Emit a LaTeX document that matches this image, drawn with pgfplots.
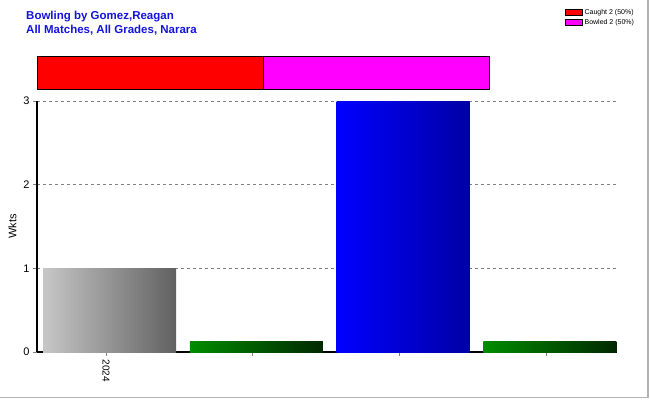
\documentclass[border=0pt]{standalone}
\usepackage{pgfplots}
\pgfplotsset{compat=1.18}
\usepackage{fontspec}
\setmainfont{Liberation Sans}
\definecolor{titleblue}{RGB}{20,20,220}
\definecolor{mag}{RGB}{255,0,255}
\begin{document}
\begin{tikzpicture}[x=1pt,y=1pt]
\path[use as bounding box] (0,0) rectangle (650,400);
\draw[gray!60,line width=1.2pt] (0,2.5) -- (648,2.5) -- (648,400);

% titles
\node[anchor=north west,align=left,text=titleblue,font=\fontsize{11.5}{13.5}\selectfont\bfseries,inner sep=0pt]
  at (26,389) {Bowling by Gomez,Reagan\\All Matches, All Grades, Narara};

% main chart
\begin{axis}[
  at={(37pt,48pt)}, anchor=south west,
  scale only axis, width=580pt, height=251pt,
  xmin=-0.494, xmax=3.457, ymin=0, ymax=3,
  axis lines*=left,
  axis line style={line width=1.6pt},
  ybar, bar width=133pt, bar shift=0pt,
  xtick={-0.024,0.976,1.976,2.976},
  xticklabels={2024,,,},
  xticklabel style={rotate=-90,anchor=west,font=\fontsize{10}{12}\selectfont},
  ytick={0,1,2,3},
  yticklabel style={font=\fontsize{11}{13}\selectfont},
  /pgf/number format/assume math mode=true,
  tick align=outside, major tick length=4pt,
  tick style={gray,line width=0.8pt},
  ymajorgrids, grid style={dashed,gray,line width=0.6pt},
  ylabel={Wkts}, ylabel style={font=\fontsize{11}{13}\selectfont},
  clip=false,
]
\addplot[draw=none,left color=black!22,right color=black!62] coordinates {(0,1)};
\addplot[draw=none,left color={rgb,255:red,0;green,140;blue,0},right color={rgb,255:red,0;green,40;blue,0}] coordinates {(1,0.12)};
\addplot[draw=none,left color={rgb,255:red,0;green,0;blue,255},right color={rgb,255:red,0;green,0;blue,165}] coordinates {(2,3)};
\addplot[draw=none,left color={rgb,255:red,0;green,140;blue,0},right color={rgb,255:red,0;green,40;blue,0}] coordinates {(3,0.12)};
\end{axis}

% top summary strip
\begin{axis}[
  at={(37pt,311pt)}, anchor=south west,
  scale only axis, width=452pt, height=32pt,
  xbar stacked, bar width=32pt,
  xmin=0, xmax=4, ymin=-0.5, ymax=0.5,
  axis lines=none, clip=false,
  legend style={at={(1.16,2.62)},anchor=north west,draw=none,fill=none,
    font=\fontsize{7}{8}\selectfont,row sep=-1pt,
    /tikz/every even column/.append style={column sep=2pt}},
  legend cell align=left,
  area legend,
]
\addplot[fill=red,draw=black,line width=1pt] coordinates {(2,0)};
\addplot[fill=mag,draw=black,line width=1pt] coordinates {(2,0)};
\legend{Caught 2 (50\%),Bowled 2 (50\%)}
\end{axis}
\end{tikzpicture}
\end{document}
